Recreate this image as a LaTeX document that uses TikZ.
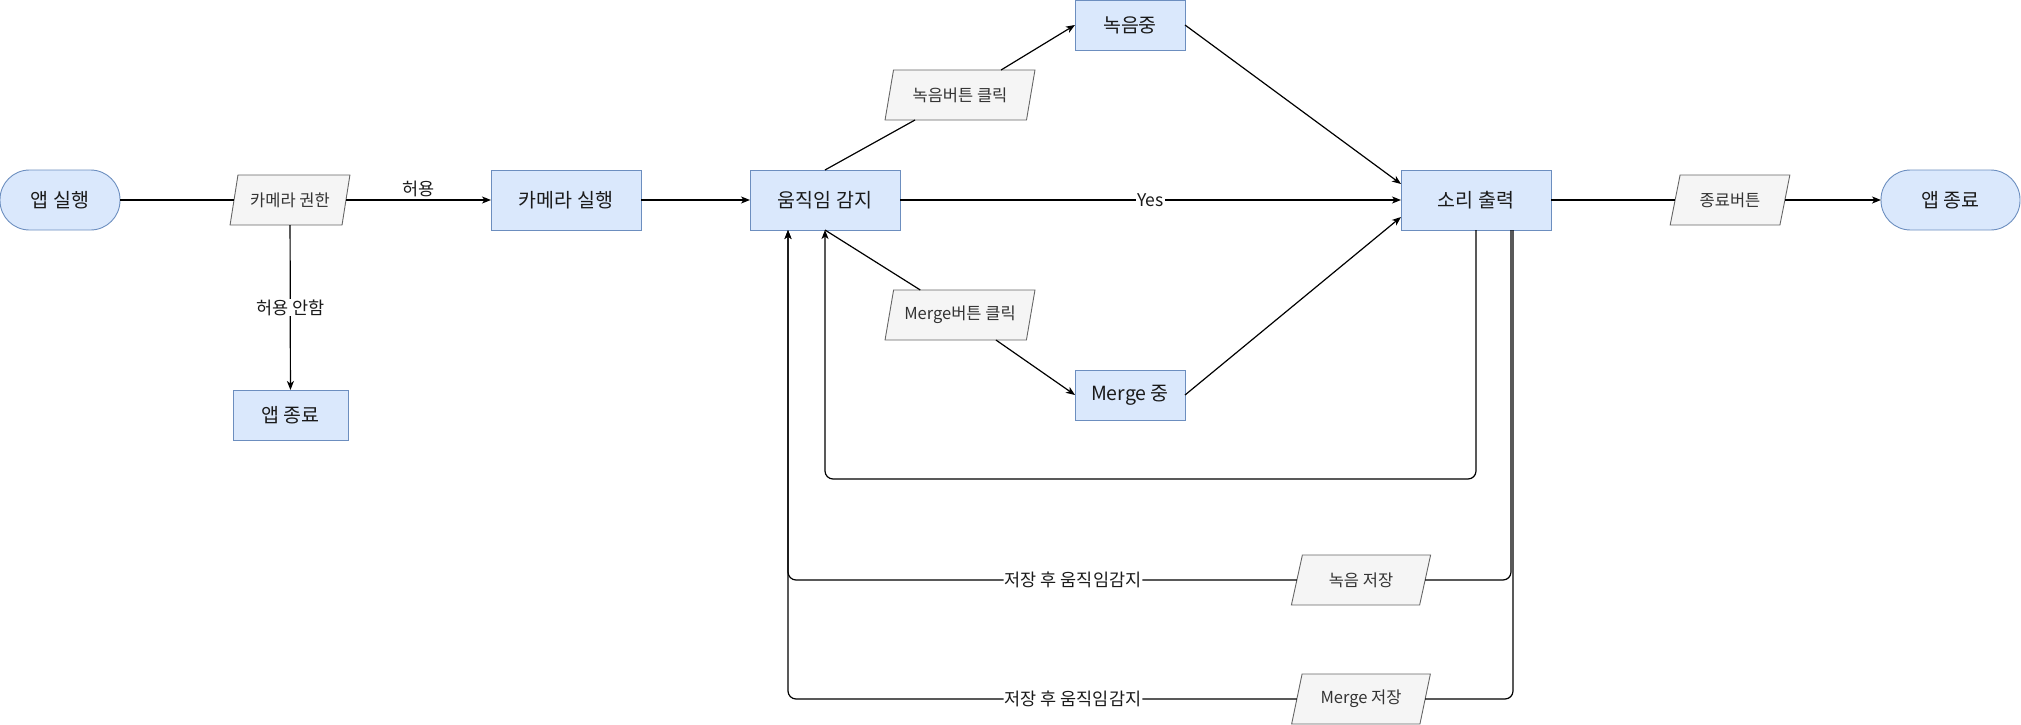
\documentclass[tikz,border=0pt]{standalone}
\usepackage{fontspec}
\setmainfont{Noto Sans CJK KR}
\usetikzlibrary{arrows.meta,shapes.geometric}
\definecolor{boxfill}{HTML}{DAE8FC}
\definecolor{boxline}{HTML}{6C8EBF}
\definecolor{iofill}{HTML}{F5F5F5}
\definecolor{ioline}{HTML}{666666}
\definecolor{iotext}{HTML}{333333}
\definecolor{labeltext}{HTML}{1A1A1A}
\begin{document}
\begin{tikzpicture}[x=1pt,y=-1pt,
  every node/.style={inner sep=0pt, outer sep=0pt},
  proc/.style={draw=boxline, fill=boxfill, line width=0.9pt,
    minimum width=#1, minimum height=60, text=labeltext,
    font=\fontsize{19.5}{22}\selectfont},
  term/.style={proc=#1, rounded corners=29.5pt},
  io/.style={trapezium, trapezium left angle=68, trapezium right angle=112,
    trapezium stretches=true, draw=ioline, fill=iofill, text=iotext,
    line width=0.9pt, minimum width=#1, minimum height=50,
    font=\fontsize{16.5}{19}\selectfont},
  edgelabel/.style={fill=white, inner sep=1pt, text=labeltext,
    font=\fontsize{17.5}{20}\selectfont},
  link/.style={line width=1.2pt},
  flow/.style={link, -{Stealth[length=9pt,width=7pt,inset=2.5pt]}},
  loop/.style={flow, rounded corners=8pt}
]
\useasboundingbox (0,0) rectangle (2021,725);

% start and camera permission
\node[term=120] (start) at (60,200) {앱 실행};
\node[io=120] (perm) at (290,200) {카메라 권한};
\node[proc=150] (cam) at (566,200) {카메라 실행};
\node[proc=115, minimum height=50] (deny) at (290.5,415) {앱 종료};

% motion detection and branches
\node[proc=150] (motion) at (825,200) {움직임 감지};
\node[io=150] (recbtn) at (960,95) {녹음버튼 클릭};
\node[proc=110, minimum height=50] (rec) at (1130,25) {녹음중};
\node[io=150] (mergebtn) at (960,315) {Merge버튼 클릭};
\node[proc=110, minimum height=50] (merge) at (1130,395) {Merge 중};

% sound output and exit
\node[proc=150] (sound) at (1476,200) {소리 출력};
\node[io=120] (endbtn) at (1730,200) {종료버튼};
\node[term=139] (quit) at (1950.5,200) {앱 종료};

% saving
\node[io=140] (recsave) at (1361,580) {녹음 저장};
\node[io=140] (mergesave) at (1361,699) {Merge 저장};

% connectors
\draw[link] (start) -- (perm);
\draw[flow] (perm) -- node[above=3pt, text=labeltext, font=\fontsize{17.5}{20}\selectfont] {허용} (cam);
\draw[flow] (perm) -- node[edgelabel] {허용 안함} (deny);
\draw[flow] (cam) -- (motion);

\draw[link] (motion.north) -- (recbtn);
\draw[flow] (recbtn) -- (rec.west);
\draw[link] (motion.south) -- (mergebtn);
\draw[flow] (mergebtn) -- (merge.west);

\draw[flow] (motion) -- node[edgelabel] {Yes} (sound);
\draw[flow] (rec.east) -- ([yshift=16pt]sound.west);
\draw[flow] (merge.east) -- ([yshift=-17pt]sound.west);

\draw[link] (sound) -- (endbtn);
\draw[flow] (endbtn) -- (quit);

% return paths
\draw[loop] (sound.south) -- ++(0,249) -| (motion.south);
\draw[link, rounded corners=8pt] ([xshift=35pt]sound.south) |- (recsave);
\draw[loop] (recsave) -| ([xshift=-37pt]motion.south)
  node[pos=0.22, edgelabel] {저장 후 움직임감지};
\draw[link, rounded corners=8pt] ([xshift=37pt]sound.south) |- (mergesave);
\draw[loop] (mergesave) -| ([xshift=-37pt]motion.south)
  node[pos=0.22, edgelabel] {저장 후 움직임감지};
\end{tikzpicture}
\end{document}
